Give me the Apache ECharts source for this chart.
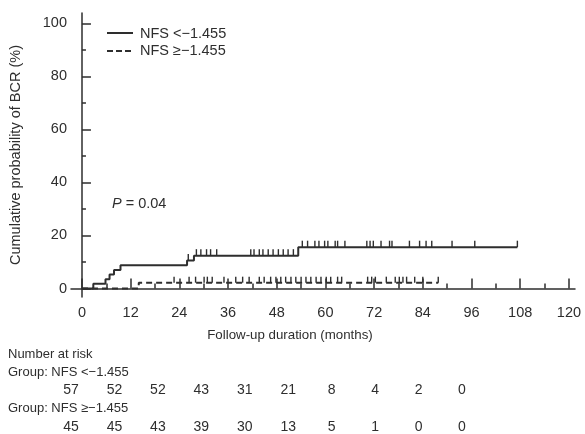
<!DOCTYPE html>
<html>
<head>
<meta charset="utf-8">
<script src="https://cdn.jsdelivr.net/npm/echarts@6/dist/echarts.min.js"></script>
<style>html,body{margin:0;padding:0;background:#fff}#c{width:585px;height:434px}</style>
</head>
<body>
<div id="c"></div>
<script>
// ---- data ----
var groupLow = 'NFS <\u22121.455';
var groupHigh = 'NFS \u2265\u22121.455';
// Kaplan-Meier steps: [month, cumulative probability %]
var lowSteps = [[0,0],[2.8,1.75],[5.8,3.5],[6.8,5.3],[7.9,7.0],[9.5,8.8],[25.9,10.6],[27.6,12.4],[53.3,15.6],[107.3,15.6]];
var highSteps = [[0,0],[14,2.2],[87.8,2.2]];
// censor times (months)
var lowCensor = [26.2,28.2,29.3,30.7,31.7,33.2,41.6,42.4,43.7,44.6,45.9,47.1,48.4,49.6,50.8,52.1,54.3,55.6,57.4,58.4,59.8,60.6,62.4,63.0,64.8,70.2,71.0,71.8,73.7,75.8,76.4,80.7,83.2,84.8,86.2,91.2,96.8,107.3];
var highCensor = [22.7,26.4,28.0,30.1,30.9,32.1,35.0,37.9,39.6,41.2,43.7,44.9,46.5,47.8,49.0,50.2,51.5,52.7,54.0,55.2,56.4,57.7,58.9,60.2,61.3,63.0,64.0,70.4,71.4,72.3,75.0,77.2,78.2,79.1,80.0,82.0,84.0,87.8];
var xTicks = [0,12,24,36,48,60,72,84,96,108,120];
var xMinor = [6,18,30,42,54,66,78,90,102,114];
var yTicks = [0,20,40,60,80,100];
var yMinor = [10,30,50,70,90];
var riskTimes = [0,12,24,36,48,60,72,84,96,108];
var riskLow = [57,52,52,43,31,21,8,4,2,0];
var riskHigh = [45,45,43,39,30,13,5,1,0,0];

function levelAt(steps, t) {
  var v = 0;
  for (var i = 0; i < steps.length; i++) { if (steps[i][0] <= t) v = steps[i][1]; }
  return v;
}
var col = '#2e2e2e';
var font = '"Liberation Sans", Arial, sans-serif';

var chart = echarts.init(document.getElementById('c'), null, {renderer: 'canvas'});
var censorSym = 'path://M0,0 L1,0 L1,10 L0,10 Z';
var riskLabel = {show: true, position: 'inside', fontSize: 14, color: col, fontFamily: font,
  textBorderWidth: 0, formatter: function(p){return String(p.value[2]);}};
chart.setOption({
  animation: false,
  backgroundColor: '#fff',
  textStyle: {fontFamily: font, color: col},
  grid: [
    {left: 70, top: 13, right: 10, bottom: 137},
    {left: 71, right: 123, top: 390, bottom: 7}
  ],
  xAxis: [
    {gridIndex: 0, type: 'value', min: -2.7, max: 121.5,
     axisLine: {show: true, lineStyle: {color: col, width: 1.5}},
     axisTick: {show: true, inside: true, length: 10, customValues: xTicks, lineStyle: {color: col, width: 1.5}},
     axisLabel: {show: true, customValues: xTicks, fontSize: 14.5, color: col, margin: 8, fontFamily: font},
     splitLine: {show: false}},
    {gridIndex: 0, type: 'value', min: -2.7, max: 121.5, position: 'bottom',
     axisLine: {show: false},
     axisTick: {show: true, inside: true, length: 5, customValues: xMinor, lineStyle: {color: col, width: 1.5}},
     axisLabel: {show: false}, splitLine: {show: false}},
    {gridIndex: 1, type: 'value', min: 0, max: 108, show: false}
  ],
  yAxis: [
    {gridIndex: 0, type: 'value', min: -3.2, max: 103.9,
     name: 'Cumulative probability of BCR (%)', nameLocation: 'middle', nameGap: 48,
     nameTextStyle: {fontSize: 14.5, color: col, fontFamily: font},
     axisLine: {show: true, lineStyle: {color: col, width: 1.5}},
     axisTick: {show: true, inside: true, length: 9, customValues: yTicks, lineStyle: {color: col, width: 1.5}},
     axisLabel: {show: true, customValues: yTicks, fontSize: 14.5, color: col, margin: 4, fontFamily: font},
     splitLine: {show: false}},
    {gridIndex: 0, type: 'value', min: -3.2, max: 103.9, position: 'left',
     axisLine: {show: false},
     axisTick: {show: true, inside: true, length: 4, customValues: yMinor, lineStyle: {color: col, width: 1.5}},
     axisLabel: {show: false}, splitLine: {show: false}},
    {gridIndex: 1, type: 'value', min: 0, max: 1, show: false}
  ],
  series: [
    {name: groupLow, type: 'line', step: 'end', data: lowSteps, symbol: 'none',
     xAxisIndex: 0, yAxisIndex: 0,
     lineStyle: {color: col, width: 2}, itemStyle: {color: col}, z: 3},
    {name: groupHigh, type: 'line', step: 'end', data: highSteps, symbol: 'none',
     xAxisIndex: 0, yAxisIndex: 0,
     lineStyle: {color: col, width: 2, type: [6, 4]}, itemStyle: {color: col}, z: 3},
    {name: 'censorLow', type: 'scatter', xAxisIndex: 0, yAxisIndex: 0,
     data: lowCensor.map(function(t){return [t, levelAt(lowSteps, t)];}),
     symbol: censorSym, symbolSize: [1.4, 6.5], symbolOffset: [0, -3.2],
     itemStyle: {color: col, opacity: 1}, z: 4, silent: true},
    {name: 'censorHigh', type: 'scatter', xAxisIndex: 0, yAxisIndex: 0,
     data: highCensor.map(function(t){return [t, levelAt(highSteps, t)];}),
     symbol: censorSym, symbolSize: [1.4, 6], symbolOffset: [0, -3],
     itemStyle: {color: col, opacity: 1}, z: 4, silent: true},
    {name: 'riskLow', type: 'scatter', xAxisIndex: 2, yAxisIndex: 2,
     data: riskTimes.map(function(t, i){return [t, 1, riskLow[i]];}),
     symbolSize: 1, itemStyle: {color: 'rgba(255,255,255,0)', opacity: 1}, silent: true, label: riskLabel},
    {name: 'riskHigh', type: 'scatter', xAxisIndex: 2, yAxisIndex: 2,
     data: riskTimes.map(function(t, i){return [t, 0, riskHigh[i]];}),
     symbolSize: 1, itemStyle: {color: 'rgba(255,255,255,0)', opacity: 1}, silent: true, label: riskLabel}
  ],
  graphic: [
    // legend
    {type: 'line', shape: {x1: 107, y1: 33, x2: 133, y2: 33}, style: {stroke: col, lineWidth: 2}},
    {type: 'text', x: 140, y: 34, style: {text: groupLow, fill: col, font: '14.5px ' + font, verticalAlign: 'middle'}},
    {type: 'line', shape: {x1: 107, y1: 51, x2: 133, y2: 51}, style: {stroke: col, lineWidth: 2, lineDash: [6, 3]}},
    {type: 'text', x: 140, y: 51, style: {text: groupHigh, fill: col, font: '14.5px ' + font, verticalAlign: 'middle'}},
    {type: 'text', x: 112, y: 204, style: {
      text: '{i|P} = 0.04', fill: col, font: '14.5px ' + font, verticalAlign: 'middle',
      rich: {i: {fontStyle: 'italic', fontSize: 14.5, fontFamily: font, fill: col}}}},
    {type: 'text', x: 290, y: 335, style: {text: 'Follow-up duration (months)', fill: col, font: '13.3px ' + font, align: 'center', verticalAlign: 'middle'}},
    {type: 'text', x: 8, y: 354, style: {text: 'Number at risk', fill: col, font: '13px ' + font, verticalAlign: 'middle'}},
    {type: 'text', x: 8, y: 372, style: {text: 'Group: ' + groupLow, fill: col, font: '13px ' + font, verticalAlign: 'middle'}},
    {type: 'text', x: 8, y: 408, style: {text: 'Group: ' + groupHigh, fill: col, font: '13px ' + font, verticalAlign: 'middle'}}
  ]
});
</script>
</body>
</html>
